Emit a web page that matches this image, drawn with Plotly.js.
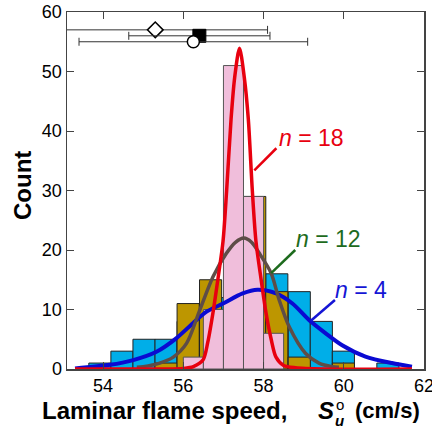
<!DOCTYPE html>
<html>
<head>
<meta charset="utf-8">
<script src="https://cdn.plot.ly/plotly-3.0.1.min.js"></script>
<style>html,body{margin:0;padding:0;background:#fff}#chart{width:432px;height:429px}</style>
</head>
<body>
<div id="chart"></div>
<script>
// Histogram bins (bin centers) and counts
const binCenters = [53.92, 54.47, 55.02, 55.57, 56.12, 56.68, 57.23, 57.78, 58.33, 58.89, 59.44, 59.99, 60.54, 61.10];
const countsN4  = [1, 3, 5, 5, 8, 10, 12, 14, 16, 13, 8, 3, 0, 1];
const countsN12 = [0, 0, 0, 1, 11, 15, 10, 29, 13, 2, 0, 1, 0, 0];
const pinkCenters = [56.25, 56.75, 57.25, 57.75, 58.25];
const countsN18 = [2, 10, 51, 29, 6];

// Fitted distribution curves
const curveN4x = [53.3, 54.17, 54.75, 55.33, 55.83, 56.24, 56.57, 56.99, 57.48, 57.85, 58.31, 58.72, 59.14, 59.55, 59.96, 60.54, 61.2, 61.7];
const curveN4y = [0.1, 0.7, 1.5, 2.9, 5.2, 7.7, 9.6, 11.0, 12.7, 13.3, 12.7, 11.0, 8.2, 6.0, 4.0, 2.1, 1.0, 0.4];
const curveN12x = [54.84, 55.0, 55.41, 55.75, 56.08, 56.41, 56.74, 57.07, 57.3, 57.51, 57.7, 57.9, 58.19, 58.39, 58.64, 59.05, 59.38, 59.71, 59.88];
const curveN12y = [0.3, 0.4, 1.0, 2.0, 4.3, 9.9, 15.5, 19.4, 21.3, 22.0, 21.3, 19.4, 16.1, 11.6, 7.1, 2.6, 1.0, 0.4, 0.3];
const curveN18x = [53.3, 55.5, 56.0, 56.25, 56.49, 56.61, 56.74, 56.86, 56.99, 57.08, 57.19, 57.28, 57.4, 57.52, 57.62, 57.72, 57.81, 57.94, 58.06, 58.19, 58.31, 58.5, 58.8, 59.5, 61.7];
const curveN18y = [0, 0, 0.1, 0.4, 1.5, 4.5, 9.5, 15, 21.5, 30, 42, 49, 53.9, 49, 42, 30, 21.5, 15, 9.5, 5, 2, 0.6, 0.2, 0, 0];

// Mean values with error bars (top)
const meanX = [55.3, 56.4, 56.25];
const meanY = [57, 56, 55];
const meanErr = [2.8, 1.76, 2.85];

const xTicks = [54, 56, 58, 60, 62];
const yTicks = [0, 10, 20, 30, 40, 50, 60];

const FONT = 'Arial, "Liberation Sans", sans-serif';
const barLine = {color: '#222', width: 1};

const traces = [
  {type: 'bar', x: binCenters, y: countsN4, width: 0.552, marker: {color: '#00aee8', line: barLine}},
  {type: 'bar', x: binCenters, y: countsN12, width: 0.552, marker: {color: '#bd9600', line: barLine}},
  {type: 'bar', x: pinkCenters, y: countsN18, width: 0.5, marker: {color: '#f0bedb', line: {color: '#555', width: 1}}},
  {type: 'scatter', mode: 'lines', x: curveN4x, y: curveN4y, line: {color: '#0a0ad2', width: 4, shape: 'spline', smoothing: 0.8}},
  {type: 'scatter', mode: 'lines', x: curveN12x, y: curveN12y, line: {color: '#5e4d47', width: 3.5, shape: 'spline', smoothing: 0.8}},
  {type: 'scatter', mode: 'lines', x: curveN18x, y: curveN18y, line: {color: '#e8000f', width: 3.5, shape: 'spline', smoothing: 0.8}},
  {type: 'scatter', mode: 'markers', x: [meanX[0]], y: [meanY[0]],
   error_x: {type: 'data', array: [meanErr[0]], color: '#333', thickness: 1, width: 4},
   marker: {symbol: 'diamond', size: 12, color: '#fff', line: {color: '#000', width: 1.5}}},
  {type: 'scatter', mode: 'markers', x: [meanX[1]], y: [meanY[1]],
   error_x: {type: 'data', array: [meanErr[1]], color: '#333', thickness: 1, width: 4},
   marker: {symbol: 'square', size: 13, color: '#000', line: {color: '#000', width: 1}}},
  {type: 'scatter', mode: 'markers', x: [meanX[2]], y: [meanY[2]],
   error_x: {type: 'data', array: [meanErr[2]], color: '#333', thickness: 1, width: 4},
   marker: {symbol: 'circle', size: 12, color: '#fff', line: {color: '#000', width: 1.5}}}
];

const titleFont = {size: 24, family: FONT, color: '#000'};
const layout = {
  width: 432, height: 429,
  margin: {l: 67, r: 8, t: 12, b: 60},
  paper_bgcolor: '#fff', plot_bgcolor: '#fff',
  showlegend: false,
  barmode: 'overlay',
  bargap: 0,
  font: {family: FONT, color: '#000'},
  xaxis: {
    range: [53.1, 62], tickvals: xTicks, ticktext: xTicks.map(String),
    ticks: 'inside', ticklen: 7, tickcolor: '#444', mirror: 'ticks',
    showline: true, linecolor: '#444', linewidth: 1.5, showgrid: false, zeroline: false,
    ticklabeloverflow: 'allow',
    tickfont: {size: 18, family: FONT, color: '#000'}
  },
  yaxis: {
    range: [0, 60], tickvals: yTicks, ticktext: yTicks.map(String),
    ticks: 'inside', ticklen: 7, tickcolor: '#444', mirror: 'ticks',
    showline: true, linecolor: '#444', linewidth: 1.5, showgrid: false, zeroline: false,
    ticklabeloverflow: 'allow',
    tickfont: {size: 18, family: FONT, color: '#000'}
  },
  annotations: [
    {x: 59.19, y: 38.9, xref: 'x', yref: 'y', text: '<i>n</i> = 18', showarrow: false, font: {size: 23, family: FONT, color: '#e8000f'}},
    {x: 59.63, y: 21.8, xref: 'x', yref: 'y', text: '<i>n</i> = 12', showarrow: false, font: {size: 23, family: FONT, color: '#1d6b1d'}},
    {x: 60.44, y: 13.3, xref: 'x', yref: 'y', text: '<i>n</i> = 4', showarrow: false, font: {size: 23, family: FONT, color: '#1515d5'}},
    // x-axis title, assembled so the degree sign sits above the subscript u
    {xref: 'paper', yref: 'paper', x: -0.0756, y: -0.1176, xanchor: 'left', yanchor: 'middle', showarrow: false,
     text: '<b>Laminar flame speed,</b>', font: titleFont},
    {xref: 'paper', yref: 'paper', x: 0.6975, y: -0.1176, xanchor: 'left', yanchor: 'middle', showarrow: false,
     text: '<b><i>S</i></b>', font: titleFont},
    {xref: 'paper', yref: 'paper', x: 0.745, y: -0.1429, xanchor: 'left', yanchor: 'middle', showarrow: false,
     text: '<b><i>u</i></b>', font: {size: 15, family: FONT, color: '#000'}},
    {xref: 'paper', yref: 'paper', x: 0.748, y: -0.100, xanchor: 'left', yanchor: 'middle', showarrow: false,
     text: 'o', font: {size: 15, family: FONT, color: '#000'}},
    {xref: 'paper', yref: 'paper', x: 0.8, y: -0.1176, xanchor: 'left', yanchor: 'middle', showarrow: false,
     text: '<b>(cm/s)</b>', font: {size: 22, family: FONT, color: '#000'}},
    // y-axis title
    {xref: 'paper', yref: 'paper', x: -0.126, y: 0.5126, xanchor: 'center', yanchor: 'middle', showarrow: false,
     textangle: -90, text: '<b>Count</b>', font: titleFont}
  ],
  shapes: [
    {type: 'line', xref: 'x', yref: 'y', x0: 57.77, y0: 33.4, x1: 58.32, y1: 37.1, line: {color: '#e8000f', width: 2.5}},
    {type: 'line', xref: 'x', yref: 'y', x0: 58.19, y0: 16.1, x1: 58.79, y1: 20.0, line: {color: '#1d6b1d', width: 2.5}},
    {type: 'line', xref: 'x', yref: 'y', x0: 59.18, y0: 8.1, x1: 59.78, y1: 11.6, line: {color: '#1515d5', width: 2.5}}
  ]
};

Plotly.newPlot('chart', traces, layout, {staticPlot: true, displayModeBar: false});
</script>
</body>
</html>
